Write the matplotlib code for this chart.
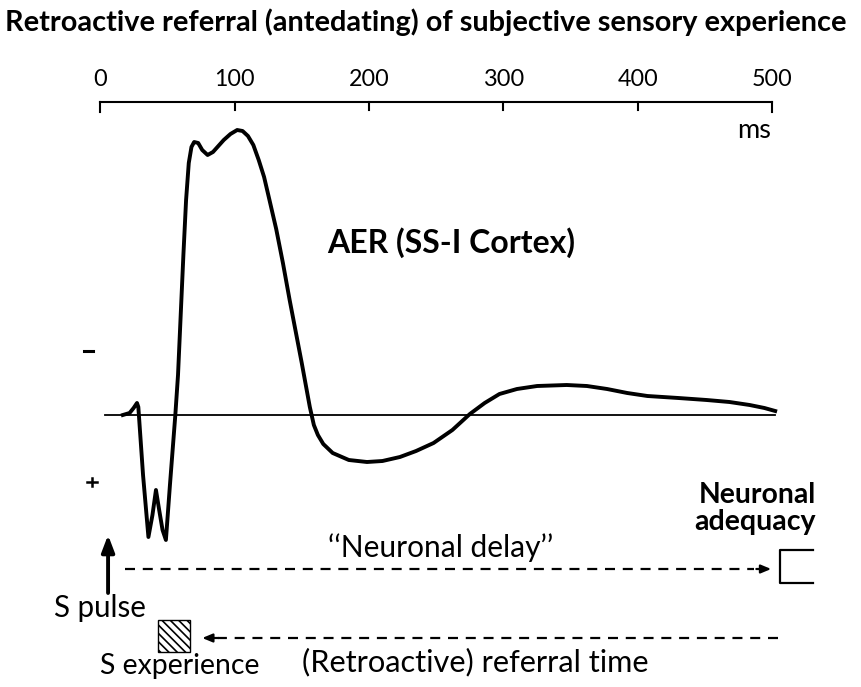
import matplotlib
matplotlib.use("Agg")
import matplotlib.pyplot as plt
from matplotlib.patches import Rectangle

# ---- data (time in ms, amplitude in arbitrary units; negative polarity drawn up) ----
time_ms = [17, 22, 25, 27.5, 28.5, 32, 36, 39, 41.6, 44, 46.5, 49, 52, 56, 58, 60, 62,
           64, 66, 68, 70, 73, 76, 80, 84, 88, 92, 97, 102, 106, 110, 114, 118, 122,
           126, 131, 136, 141, 146, 150, 153, 156, 159, 162, 166, 173, 185, 198.5, 210,
           223, 235, 248, 262, 275, 286, 297, 310, 325, 347, 362, 377, 392, 407, 430,
           451, 468, 483, 494, 502]
aer_amp = [0, 2, 7, 12, 8, -60, -122, -100, -75, -95, -115, -125, -70, 0, 40, 100, 160,
           215, 252, 268, 273, 272, 265, 260, 263, 269, 275, 281, 285, 284, 279, 270, 255,
           238, 215, 186, 152, 115, 80, 52, 30, 8, -10, -20, -29, -38, -45, -47, -46,
           -42, -36, -28, -15, 1, 12, 21, 26, 29, 30, 29, 26, 22, 19, 17,
           15, 13, 10, 7, 4]
tick_values = [0, 100, 200, 300, 400, 500]
tick_labels = ["0", "100", "200", "300", "400", "500"]

title = "Retroactive referral (antedating) of subjective sensory experience"
font = ["Lato", "DejaVu Sans"]

fig = plt.figure(figsize=(8.61, 6.87), dpi=100)
ax = fig.add_axes([0, 0, 1, 1])
ax.set_xlim(-74.35, 565.8)
ax.set_ylim(-272, 415)
ax.axis("off")
renderer = fig.canvas.get_renderer()


def fit_text(x, y, s, width_px, **kw):
    t = ax.text(x, y, s, fontsize=10, family=font, **kw)
    w = t.get_window_extent(renderer=renderer).width
    t.set_fontsize(10 * width_px / w)
    return t


# title
fit_text(242.4, 393, title, 842, ha="center", va="center", fontweight="bold")

# top time scale
ax.plot([0, 500], [313, 313], color="black", lw=1.5)
for v, lab in zip(tick_values, tick_labels):
    y0 = 303 if v in (0, 500) else 305
    ax.plot([v, v], [313, y0], color="black", lw=1.5)
    fit_text(v, 336, lab, 13.5 * len(lab), ha="center", va="center")
fit_text(486, 285, "ms", 34, ha="center", va="center")

# baseline and AER curve
ax.plot([4, 502], [0, 0], color="black", lw=1.3)
ax.plot(time_ms, aer_amp, color="black", lw=2.8, solid_joinstyle="round")
fit_text(261, 172, "AER (SS-I Cortex)", 248, ha="center", va="center", fontweight="bold")

# polarity marks
ax.plot([-12, -5], [64, 64], color="black", lw=2.2)
ax.plot([-9.5, -2.5], [-67, -67], color="black", lw=1.8)
ax.plot([-6, -6], [-63, -71], color="black", lw=1.8)

# S pulse arrow
ax.annotate("", xy=(6, -120), xytext=(6, -178),
            arrowprops=dict(arrowstyle="-|>,head_length=1.0,head_width=0.38",
                            color="black", lw=2.8, shrinkA=0, shrinkB=0))
fit_text(0, -193, "S pulse", 92, ha="center", va="center")

# Neuronal delay dashed arrow
ax.plot([18.6, 486], [-154, -154], color="black", lw=1.6, dashes=(4.5, 3.5))
ax.annotate("", xy=(499, -154), xytext=(488, -154),
            arrowprops=dict(arrowstyle="-|>,head_length=0.6,head_width=0.25",
                            color="black", lw=1.6, shrinkA=0, shrinkB=0))
fit_text(253, -133, "\u2018\u2018Neuronal delay\u2019\u2019", 225, ha="center", va="center")

# neuronal adequacy bracket
ax.plot([530, 505.6, 505.6, 530], [-135, -135, -168, -168], color="black", lw=1.6)
fit_text(532, -80, "Neuronal", 118, ha="right", va="center", fontweight="bold")
fit_text(532, -107, "adequacy", 122, ha="right", va="center", fontweight="bold")

# S experience hatched square
plt.rcParams["hatch.linewidth"] = 1.2
ax.add_patch(Rectangle((43, -237), 24, 32, facecolor="white", edgecolor="black",
                       hatch="\\\\\\\\", lw=1.0))
fit_text(59.5, -251, "S experience", 160, ha="center", va="center")

# referral time dashed arrow
ax.plot([504, 88], [-223, -223], color="black", lw=1.6, dashes=(4.5, 3.5))
ax.annotate("", xy=(76, -223), xytext=(88, -223),
            arrowprops=dict(arrowstyle="-|>,head_length=0.6,head_width=0.25",
                            color="black", lw=1.6, shrinkA=0, shrinkB=0))
fit_text(279, -247, "(Retroactive) referral time", 348, ha="center", va="center")

fig.savefig("out.png", dpi=100)
